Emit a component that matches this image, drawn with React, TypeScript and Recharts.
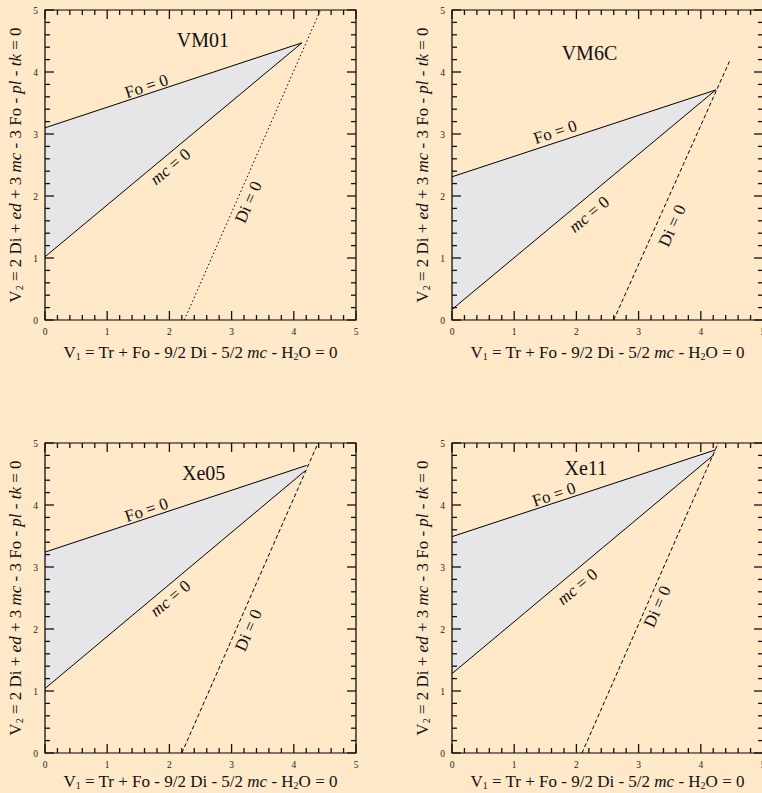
import { ComposedChart, XAxis, YAxis, Line, Area, Scatter, ReferenceArea } from "recharts";

const SERIF = '"Liberation Serif", "Times New Roman", serif';
const BG = "#FFE9C9";
const FIELD = "#E6E6E8";

const MAJOR_TICKS = [0, 1, 2, 3, 4, 5];
const MINOR_TICKS = [
  0, 0.2, 0.4, 0.6, 0.8, 1, 1.2, 1.4, 1.6, 1.8, 2, 2.2, 2.4, 2.6, 2.8, 3,
  3.2, 3.4, 3.6, 3.8, 4, 4.2, 4.4, 4.6, 4.8, 5,
];

type Pt = { x: number; y: number };
type Note = { kind: "title" | "fo" | "mc" | "di"; x: number; y: number };

// reaction lines, end points in (V1, V2)
const VM01_FO: Pt[] = [{ x: 0, y: 3.1 }, { x: 4.13, y: 4.47 }];
const VM01_MC: Pt[] = [{ x: 0, y: 1.02 }, { x: 4.13, y: 4.47 }];
const VM01_DI: Pt[] = [{ x: 2.24, y: 0 }, { x: 4.43, y: 5 }];

const VM6C_FO: Pt[] = [{ x: 0, y: 2.31 }, { x: 4.24, y: 3.71 }];
const VM6C_MC: Pt[] = [{ x: 0, y: 0.17 }, { x: 4.24, y: 3.71 }];
const VM6C_DI: Pt[] = [{ x: 2.6, y: 0 }, { x: 4.46, y: 4.17 }];

const XE05_FO: Pt[] = [{ x: 0, y: 3.24 }, { x: 4.21, y: 4.64 }];
const XE05_MC: Pt[] = [{ x: 0, y: 1.04 }, { x: 4.18, y: 4.55 }];
const XE05_DI: Pt[] = [{ x: 2.2, y: 0 }, { x: 4.39, y: 5 }];

const XE11_FO: Pt[] = [{ x: 0, y: 3.49 }, { x: 4.24, y: 4.89 }];
const XE11_MC: Pt[] = [{ x: 0, y: 1.28 }, { x: 4.21, y: 4.81 }];
const XE11_DI: Pt[] = [{ x: 2.09, y: 0 }, { x: 4.28, y: 5 }];

// label anchors (data units)
const VM01_NOTES: Note[] = [
  { kind: "title", x: 2.54, y: 4.52 },
  { kind: "fo", x: 1.63, y: 3.77 },
  { kind: "mc", x: 2.01, y: 2.48 },
  { kind: "di", x: 3.27, y: 1.9 },
];
const VM6C_NOTES: Note[] = [
  { kind: "title", x: 2.21, y: 4.3 },
  { kind: "fo", x: 1.66, y: 3.03 },
  { kind: "mc", x: 2.2, y: 1.71 },
  { kind: "di", x: 3.54, y: 1.52 },
];
const XE05_NOTES: Note[] = [
  { kind: "title", x: 2.55, y: 4.52 },
  { kind: "fo", x: 1.63, y: 3.92 },
  { kind: "mc", x: 2.01, y: 2.5 },
  { kind: "di", x: 3.27, y: 1.98 },
];
const XE11_NOTES: Note[] = [
  { kind: "title", x: 2.15, y: 4.6 },
  { kind: "fo", x: 1.64, y: 4.17 },
  { kind: "mc", x: 2.01, y: 2.69 },
  { kind: "di", x: 3.3, y: 2.36 },
];

const PLOT_W = 311;
const PLOT_H = 310;
const Y_AXIS_W = 45;
const TOP_M = 10;
const X_AXIS_H = 50;

const PANELS = [
  { name: "VM01", fo: VM01_FO, mc: VM01_MC, di: VM01_DI, notes: VM01_NOTES, dash: "1.5 2.5", left: 45, top: 10, xlab: 32 },
  { name: "VM6C", fo: VM6C_FO, mc: VM6C_MC, di: VM6C_DI, notes: VM6C_NOTES, dash: "4 2.5", left: 451.7, top: 9.5, xlab: 32 },
  { name: "Xe05", fo: XE05_FO, mc: XE05_MC, di: XE05_DI, notes: XE05_NOTES, dash: "4 2.5", left: 45, top: 442.7, xlab: 28 },
  { name: "Xe11", fo: XE11_FO, mc: XE11_MC, di: XE11_DI, notes: XE11_NOTES, dash: "4 2.5", left: 451.7, top: 443.3, xlab: 28 },
];

const isMajor = (v: number) => MAJOR_TICKS.some((m) => Math.abs(v - m) < 1e-6);

// inward ticks on the bottom edge and the mirrored top edge
const renderXTick = (props: any) => {
  const { x, y, payload } = props;
  const major = isMajor(payload.value);
  const len = major ? 9 : 5;
  return (
    <g>
      <path d={`M${x},${y}v${-len}`} stroke="#111" strokeWidth={1.3} fill="none" />
      <path d={`M${x},${y - PLOT_H}v${len}`} stroke="#111" strokeWidth={1.3} fill="none" />
      {major && (
        <text x={x} y={y + 15} textAnchor="middle" fontSize={9.5} fontFamily={SERIF} fill="#222">
          {payload.value}
        </text>
      )}
    </g>
  );
};

// inward ticks on the left edge and the mirrored right edge
const renderYTick = (props: any) => {
  const { x, y, payload } = props;
  const major = isMajor(payload.value);
  const len = major ? 9 : 5;
  return (
    <g>
      <path d={`M${x},${y}h${len}`} stroke="#111" strokeWidth={1.3} fill="none" />
      <path d={`M${x + PLOT_W},${y}h${-len}`} stroke="#111" strokeWidth={1.3} fill="none" />
      {major && (
        <text x={x - 7} y={y + 3.5} textAnchor="end" fontSize={9.5} fontFamily={SERIF} fill="#222">
          {payload.value}
        </text>
      )}
    </g>
  );
};

const xLabel = (offset: number) => (props: any) => {
  const { x, y, width } = props.viewBox;
  const cx = x + width / 2;
  const cy = y + offset;
  return (
    <text x={cx} y={cy} textAnchor="middle" dominantBaseline="central" fontSize={17} fontFamily={SERIF} fill="#111">
      <tspan>V</tspan>
      <tspan fontSize={10} dy={4}>1</tspan>
      <tspan dy={-4}>{" = Tr + Fo - 9/2 Di - 5/2 "}</tspan>
      <tspan fontStyle="italic">mc</tspan>
      <tspan>{" - H"}</tspan>
      <tspan fontSize={10} dy={4}>2</tspan>
      <tspan dy={-4}>{"O = 0"}</tspan>
    </text>
  );
};

const yLabel = (props: any) => {
  const { x, y, width, height } = props.viewBox;
  const cx = x + width - 30;
  const cy = y + height / 2;
  return (
    <text x={cx} y={cy} transform={`rotate(-90 ${cx} ${cy})`} textAnchor="middle" dominantBaseline="central" fontSize={17} fontFamily={SERIF} fill="#111">
      <tspan>V</tspan>
      <tspan fontSize={10} dy={4}>2</tspan>
      <tspan dy={-4}>{" = 2 Di + "}</tspan>
      <tspan fontStyle="italic">ed</tspan>
      <tspan>{" + 3 "}</tspan>
      <tspan fontStyle="italic">mc</tspan>
      <tspan>{" - 3 Fo - "}</tspan>
      <tspan fontStyle="italic">pl</tspan>
      <tspan>{" - "}</tspan>
      <tspan fontStyle="italic">tk</tspan>
      <tspan>{" = 0"}</tspan>
    </text>
  );
};

const angleOf = (line: Pt[]) =>
  (Math.atan2(((line[1].y - line[0].y) * PLOT_H) / 5, ((line[1].x - line[0].x) * PLOT_W) / 5) * 180) / Math.PI;

function makeNoteShape(name: string, lines: Record<string, Pt[]>) {
  return (props: any) => {
    const { cx, cy, payload } = props;
    const kind = payload.kind;
    if (kind === "title") {
      return (
        <text x={cx} y={cy} textAnchor="middle" dominantBaseline="central" fontSize={20} fontFamily={SERIF} fill="#111">
          {name}
        </text>
      );
    }
    const a = angleOf(lines[kind]);
    return (
      <text x={cx} y={cy} textAnchor="middle" dominantBaseline="central" fontSize={17} fontFamily={SERIF} fill="#111" transform={`rotate(${-a} ${cx} ${cy})`}>
        {kind === "fo" && "Fo = 0"}
        {kind === "di" && "Di = 0"}
        {kind === "mc" && (
          <>
            <tspan fontStyle="italic">mc</tspan>
            <tspan>{" = 0"}</tspan>
          </>
        )}
      </text>
    );
  };
}

function fieldBand(fo: Pt[], mc: Pt[]) {
  const foAt = (x: number) => fo[0].y + ((fo[1].y - fo[0].y) * (x - fo[0].x)) / (fo[1].x - fo[0].x);
  return [
    { x: 0, band: [mc[0].y, fo[0].y] },
    { x: mc[1].x, band: [mc[1].y, foAt(mc[1].x)] },
    { x: fo[1].x, band: [fo[1].y, fo[1].y] },
  ];
}

function Panel({ p }: { p: (typeof PANELS)[number] }) {
  const width = Y_AXIS_W + PLOT_W + 20;
  const height = TOP_M + PLOT_H + X_AXIS_H;
  return (
    <div style={{ position: "absolute", left: p.left - Y_AXIS_W, top: p.top - TOP_M }}>
      <ComposedChart width={width} height={height} margin={{ top: TOP_M, right: 20, bottom: 0, left: 0 }}>
        <Area
          data={fieldBand(p.fo, p.mc)}
          dataKey="band"
          type="linear"
          stroke="none"
          fill={FIELD}
          fillOpacity={1}
          isAnimationActive={false}
        />
        <Line data={p.fo} dataKey="y" type="linear" stroke="#000" strokeWidth={1} dot={false} isAnimationActive={false} />
        <Line data={p.mc} dataKey="y" type="linear" stroke="#000" strokeWidth={1} dot={false} isAnimationActive={false} />
        <Line data={p.di} dataKey="y" type="linear" stroke="#000" strokeWidth={1} strokeDasharray={p.dash} dot={false} isAnimationActive={false} />
        <Scatter
          data={p.notes}
          dataKey="y"
          shape={makeNoteShape(p.name, { fo: p.fo, mc: p.mc, di: p.di })}
          isAnimationActive={false}
        />
        <ReferenceArea x1={0} x2={5} y1={0} y2={5} fill="none" stroke="#000" strokeWidth={1.2} />
        <XAxis
          type="number"
          dataKey="x"
          domain={[0, 5]}
          ticks={MINOR_TICKS}
          interval={0}
          allowDataOverflow
          tickLine={false}
          axisLine={false}
          tickSize={0}
          tickMargin={0}
          tick={renderXTick}
          height={X_AXIS_H}
          label={xLabel(p.xlab)}
        />
        <YAxis
          type="number"
          domain={[0, 5]}
          ticks={MINOR_TICKS}
          interval={0}
          allowDataOverflow
          tickLine={false}
          axisLine={false}
          tickSize={0}
          tickMargin={0}
          tick={renderYTick}
          width={Y_AXIS_W}
          label={yLabel}
        />
      </ComposedChart>
    </div>
  );
}

export default function App() {
  return (
    <div
      style={{
        position: "absolute",
        left: 0,
        top: 0,
        width: 762,
        height: 793,
        background: BG,
        overflow: "hidden",
      }}
    >
      {PANELS.map((p) => (
        <Panel key={p.name} p={p} />
      ))}
    </div>
  );
}
